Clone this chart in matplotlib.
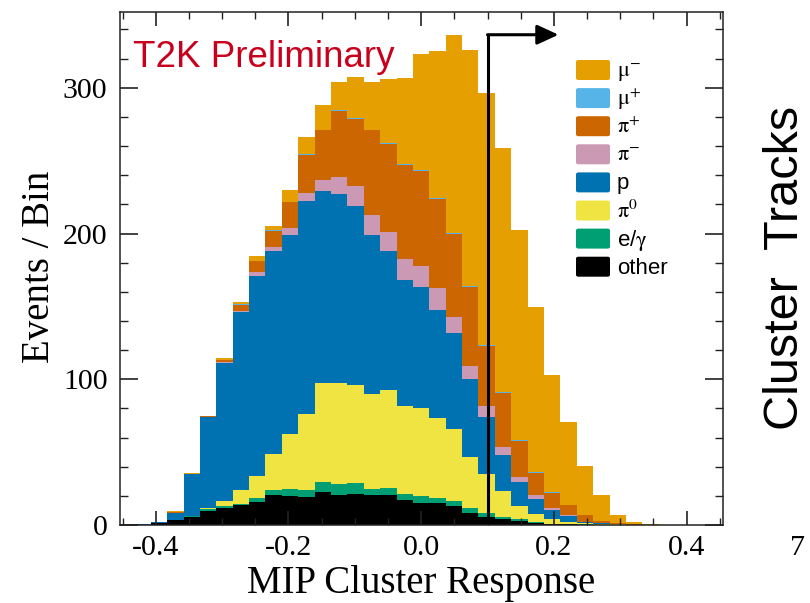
import numpy as np
import matplotlib
matplotlib.use('Agg')
import matplotlib.pyplot as plt
from matplotlib.ticker import MultipleLocator, FormatStrFormatter
from matplotlib.patches import FancyBboxPatch

plt.rcParams['mathtext.fontset'] = 'stix'
plt.rcParams['axes.unicode_minus'] = False

# histogram binning (MIP cluster response)
bin_lo = -0.457
bin_w = 0.0247

# events per bin, per true particle type (stacked bottom -> top)
other   = [0, 0, 1.4, 3.1, 5.8, 9.6, 11.9, 13.5, 16.0, 20.4, 19.7, 19.2, 22.9, 20.3, 21.1, 20.3, 20.8,
           17.4, 15.3, 14.9, 13.1, 8.5, 5.7, 3.9, 2.7, 1.5, 0.7, 0.5, 0.3, 0.1, 0, 0, 0]
egamma  = [0, 0, 0, 0, 0.3, 1.2, 1.2, 1.2, 2.3, 3.4, 5.2, 4.6, 6.5, 7.5, 7.6, 4.4, 4.8,
           4.2, 4.6, 3.4, 3.4, 3.0, 2.8, 1.8, 1.2, 0.5, 0.2, 0.1, 0.3, 0.1, 0, 0, 0]
pi0     = [0, 0, 0, 0.2, 0.3, 1.1, 3.4, 9.1, 15.4, 24.8, 37.4, 52.3, 68.0, 69.4, 67.5, 65.1, 67.0,
           60.0, 60.7, 54.8, 49.2, 35.2, 26.3, 17.7, 9.2, 5.3, 3.0, 1.7, 0.5, 0.2, 0.6, 0, 0]
proton  = [0.7, 0.8, 0.5, 5.2, 28.4, 61.9, 94.6, 122.1, 137.4, 139.7, 137.0, 146.1, 132.0, 130.0, 123.0, 109.5, 95.7,
           86.6, 83.0, 74.7, 65.8, 53.4, 39.6, 24.5, 16.5, 10.4, 6.2, 3.7, 1.0, 0.9, 0.1, 0, 0]
pim     = [0, 0, 0, 0, 0.1, 0.2, 0.5, 0.7, 2.3, 2.3, 4.6, 5.5, 7.5, 11.5, 13.1, 13.1, 12.6,
           14.4, 14.4, 14.6, 11.0, 9.2, 7.4, 5.3, 3.4, 2.7, 1.4, 0.9, 0.1, 0, 0, 0, 0]
pip     = [0, 0, 0, 0.3, 0.3, 0.7, 1.6, 4.6, 7.6, 11.4, 17.7, 26.4, 33.9, 45.3, 46.1, 58.4, 60.7,
           64.6, 64.8, 61.2, 57.3, 54.3, 41.2, 37.7, 24.3, 15.6, 10.7, 6.8, 4.4, 1.4, 0.9, 1.0, 0.3]
mup     = [0, 0, 0, 0, 0, 0, 0.1, 0.1, 0.2, 0.2, 0.2, 0.7, 0.2, 0.7, 0.7, 0.3, 0.3,
           0.7, 0.7, 0.7, 0.7, 0.4, 0.3, 0.3, 0.7, 0.3, 0.2, 0.1, 0.1, 0, 0, 0, 0]
mum     = [0, 0, 0.3, 0.5, 0.3, 0.3, 1.3, 2.0, 3.2, 3.3, 7.8, 11.4, 17.4, 19.3, 28.4, 32.9, 43.8,
           58.6, 80.0, 100.7, 135.5, 162.2, 173.4, 167.7, 144.1, 113.1, 80.5, 57.0, 33.8, 17.7, 5.0, 1.0, 0.6]

cut_value = 0.1

labels = [r'$\mathrm{\mu}^{-}$', r'$\mathrm{\mu}^{+}$', r'$\mathrm{\pi}^{+}$', r'$\mathrm{\pi}^{-}$',
          'p', r'$\mathrm{\pi}^{0}$', r'e/$\mathrm{\gamma}$', 'other']
colors = ['#E69F00', '#56B4E9', '#CC6600', '#CC99B4', '#0072B2', '#F0E442', '#009E73', '#000000']

fig = plt.figure(figsize=(8.1, 6.03), dpi=100)
ax = fig.add_axes([120 / 810, 1 - 525 / 603, 603 / 810, 513 / 603])

stack = [other, egamma, pi0, proton, pim, pip, mup, mum]
n = len(other)
left = bin_lo + bin_w * np.arange(n)
bottom = np.zeros(n)
for vals, col in zip(stack, colors[::-1]):
    vals = np.array(vals, dtype=float)
    ax.bar(left, vals, width=bin_w, bottom=bottom, align='edge', color=col, linewidth=0, zorder=1)
    bottom += vals

ax.set_xlim(-0.454, 0.455)
ax.set_ylim(0, 352)

# cut line with arrow
ytop = 336.4
ax.plot([cut_value, cut_value], [0, ytop], color='k', lw=2.2, solid_capstyle='projecting', zorder=5)
ax.annotate('', xy=(0.207, ytop), xytext=(cut_value, ytop),
            arrowprops=dict(arrowstyle='-|>,head_length=0.65,head_width=0.3', color='k', lw=2.2,
                            shrinkA=0, shrinkB=0, mutation_scale=20), zorder=5)

ax.xaxis.set_major_locator(MultipleLocator(0.2))
ax.xaxis.set_minor_locator(MultipleLocator(0.05))
ax.xaxis.set_major_formatter(FormatStrFormatter('%.1f'))
ax.yaxis.set_major_locator(MultipleLocator(100))
ax.yaxis.set_minor_locator(MultipleLocator(20))
ax.tick_params(which='both', direction='in', top=True, right=True, color='#222222')
ax.tick_params(axis='x', which='major', length=10, width=1.2, pad=7)
ax.tick_params(axis='x', which='minor', length=5, width=1.0)
ax.tick_params(axis='y', which='major', length=13, width=1.2, pad=9)
ax.tick_params(axis='y', which='minor', length=6, width=1.0)
for lab in ax.get_xticklabels() + ax.get_yticklabels():
    lab.set_fontfamily('Liberation Serif')
    lab.set_fontsize(21.5)
for sp in ax.spines.values():
    sp.set_linewidth(1.1)
    sp.set_color('#222222')
    sp.set_zorder(6)

fig.text(421 / 810, 1 - 583 / 603, 'MIP Cluster Response', ha='center', va='center',
         fontsize=28, family='Liberation Serif')
fig.text(40 / 810, 1 - 267 / 603, 'Events / Bin', ha='center', va='center', rotation=90,
         fontsize=28, family='Liberation Serif')

ax.text(0.0216, 0.893, 'T2K Preliminary', transform=ax.transAxes, ha='left', va='baseline',
        fontsize=26.5, family='Liberation Sans', color='#C8001E', zorder=7)

# legend drawn by hand
for i, (lab, col) in enumerate(zip(labels, colors)):
    yc = 70 + 28.1 * i
    patch = FancyBboxPatch((576 / 810, 1 - (yc + 10) / 603), 34 / 810, 20 / 603,
                           boxstyle='round,pad=0,rounding_size=0.003', transform=fig.transFigure,
                           facecolor=col, edgecolor='none', zorder=8)
    fig.patches.append(patch)
    fig.text(617 / 810, 1 - (yc + 7) / 603, lab, ha='left', va='baseline', fontsize=16,
             family='Liberation Sans')

# pieces of the neighbouring slide content
fig.text(785 / 810, 1 - 268 / 603, 'Cluster  Tracks', ha='center', va='center', rotation=90,
         fontsize=35, family='Liberation Sans')
fig.text(797 / 810, 1 - 548 / 603, '7', ha='center', va='center', fontsize=21.5,
         family='Liberation Serif')

fig.savefig('out.png', dpi=100)
